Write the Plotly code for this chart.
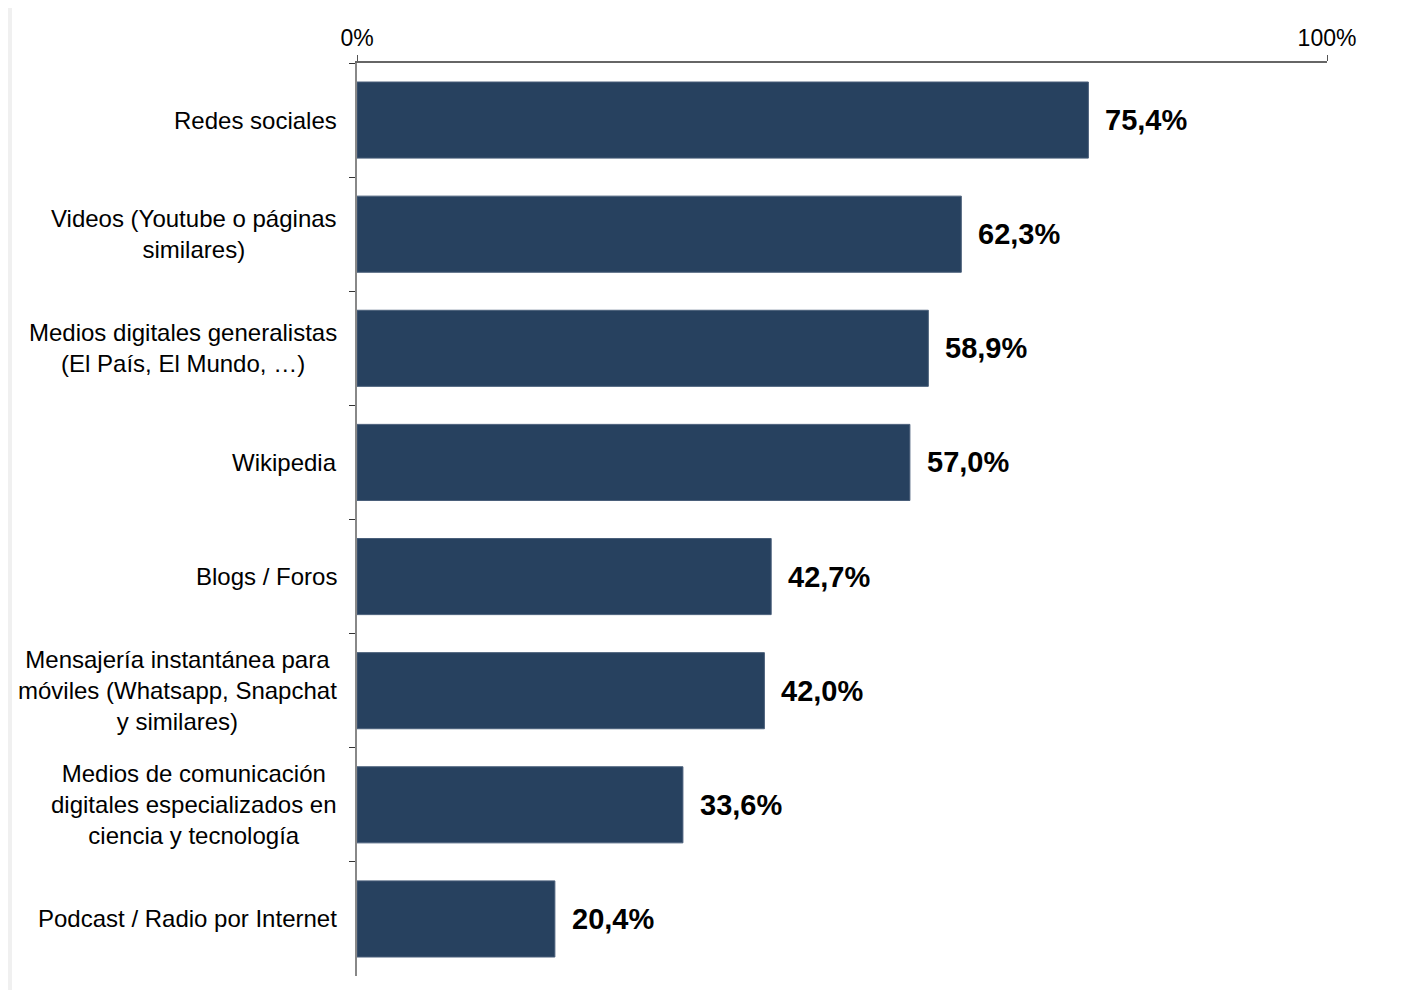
"""Horizontal bar chart: sources of science information on the internet."""

import plotly.graph_objects as go

# Data
categories = [
    'Redes sociales',
    'Videos (Youtube o páginas<br>similares)',
    'Medios digitales generalistas<br>(El País, El Mundo, …)',
    'Wikipedia',
    'Blogs / Foros',
    'Mensajería instantánea para<br>móviles (Whatsapp, Snapchat<br>y similares)',
    'Medios de comunicación<br>digitales especializados en<br>ciencia y tecnología',
    'Podcast / Radio por Internet',
]
values = [75.4, 62.3, 58.9, 57.0, 42.7, 42.0, 33.6, 20.4]
x_ticks = [0, 100]
x_tick_labels = ['0%', '100%']

BAR_COLOR = '#27415f'
FONT = 'Liberation Sans, Arial, sans-serif'

fig = go.Figure()

fig.add_trace(go.Bar(
    y=categories,
    x=values,
    orientation='h',
    marker=dict(color=BAR_COLOR, line=dict(color='#4a5f7a', width=1)),
    hoverinfo='skip',
))

# value labels right of each bar
for cat, val in zip(categories, values):
    fig.add_annotation(
        x=val, y=cat, xref='x', yref='y',
        text='<b>' + f"{val:.1f}".replace('.', ',') + '%</b>',
        showarrow=False, xanchor='left', yanchor='middle', xshift=15,
        font=dict(family=FONT, size=29, color='black'),
    )
    # category labels, centred lines
    fig.add_annotation(
        x=0, y=cat, xref='paper', yref='y',
        text=cat, align='center',
        showarrow=False, xanchor='right', yanchor='middle', xshift=-18,
        font=dict(family=FONT, size=24, color='black'),
    )

# white card on light grey page
fig.add_shape(
    type='rect', xref='paper', yref='paper', layer='below',
    x0=-0.3557, x1=1.0804, y0=-0.05, y1=1.1,
    fillcolor='white', line=dict(width=0),
)

fig.update_layout(
    width=1403,
    height=982,
    margin=dict(l=349, r=84, t=55, b=14),
    paper_bgcolor='#f0f0f0',
    plot_bgcolor='rgba(0,0,0,0)',
    bargap=0.333,
    showlegend=False,
    font=dict(family=FONT, size=23, color='black'),
    xaxis=dict(
        side='top',
        range=[0, 100],
        tickvals=x_ticks,
        ticktext=x_tick_labels,
        ticks='outside', ticklen=6, tickcolor='#555555',
        showline=True, linecolor='#666666', linewidth=1.5,
        showgrid=False, zeroline=False,
        tickfont=dict(family=FONT, size=23, color='black'),
    ),
    yaxis=dict(
        type='category',
        autorange='reversed',
        range=[7.5, -0.5],
        showticklabels=False,
        ticks='outside', ticklen=6, tickcolor='#333333',
        tickson='boundaries',
        showline=True, linecolor='#888888', linewidth=2,
        showgrid=False, zeroline=False,
    ),
)

fig.write_html("out.html")
